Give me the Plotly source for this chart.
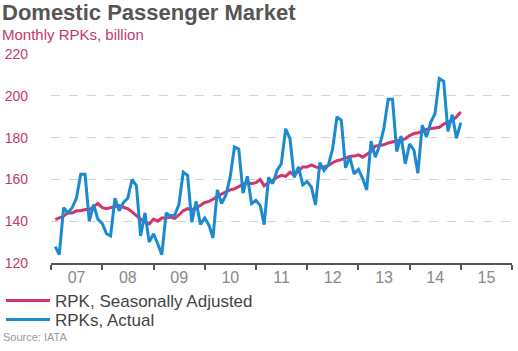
import pandas as pd
import plotly.graph_objects as go

# Monthly observations, Feb 2007 .. Jan 2015 (96 months)
months = pd.date_range("2007-02-01", periods=96, freq="MS")

rpk_sa = [
    140.8, 141.5, 142.5, 144.0, 144.0, 145.0, 145.0, 145.6, 145.5, 147.0, 148.5, 146.5,
    146.0, 146.5, 147.0, 147.5, 146.7, 146.0, 144.5, 142.5, 141.0, 139.5, 138.7, 141.0,
    140.0, 141.5, 141.5, 142.0, 141.4, 143.0, 145.0, 146.0, 145.5, 146.5, 147.5, 149.0,
    149.5, 150.5, 152.0, 153.0, 154.0, 155.0, 155.5, 156.5, 157.5, 158.7, 158.0, 158.5,
    160.0, 157.0, 158.5, 159.5, 161.0, 162.0, 161.5, 163.5, 162.0, 164.3, 166.0, 166.0,
    167.0, 166.0, 165.5, 166.0, 166.7, 168.0, 169.0, 169.5, 170.2, 171.0, 171.2, 171.8,
    170.7, 172.0, 173.5, 176.0, 176.3, 176.6, 177.5, 178.0, 178.7, 179.0, 179.5, 181.0,
    182.0, 182.4, 183.0, 184.0, 184.3, 184.6, 185.0, 186.5, 187.5, 188.3, 190.0, 192.3,
]

rpk_actual = [
    127.8, 124.0, 146.5, 144.0, 146.5, 151.0, 162.5, 162.5, 140.0, 148.0, 141.0, 139.0,
    134.0, 133.0, 151.0, 145.0, 149.0, 151.0, 160.0, 157.0, 133.0, 144.0, 130.0, 134.0,
    129.0, 124.0, 144.0, 142.5, 143.0, 148.0, 163.5, 162.0, 139.5, 149.5, 138.5, 141.5,
    138.0, 132.0, 155.0, 148.5, 152.5, 161.0, 175.5, 174.5, 153.5, 161.5, 148.5, 150.0,
    147.5, 138.4, 161.0, 158.0, 164.3, 167.5, 184.3, 179.5, 161.0, 166.0, 157.4, 159.0,
    156.3, 147.8, 168.0, 164.3, 167.0, 174.7, 190.0, 188.3, 165.6, 170.7, 162.7, 164.8,
    160.3, 155.0, 178.4, 170.7, 176.3, 184.3, 198.4, 198.4, 173.4, 180.8, 167.5, 177.0,
    174.0, 163.0, 186.0, 180.3, 187.5, 191.5, 208.3, 207.0, 183.0, 191.0, 179.8, 187.2,
]

y_label_ticks = [120, 140, 160, 180, 200, 220]
grid_ticks = [140, 160, 180, 200]

PINK = "#d3336f"
BLUE = "#1b8ad0"
FONT = "Arial, Liberation Sans, sans-serif"

W, H = 518, 351
ML, MR, MT, MB = 51, 6, 50, 88
pw, ph = W - ML - MR, H - MT - MB
def px(xp):
    return (xp - ML) / pw
def py(yp):
    return (H - MB - yp) / ph

fig = go.Figure()
fig.add_trace(go.Scatter(x=months, y=rpk_sa, mode="lines", name="RPK, Seasonally Adjusted",
                         line=dict(color=PINK, width=3), yaxis="y", legend="legend"))
fig.add_trace(go.Scatter(x=months, y=rpk_actual, mode="lines", name="RPKs, Actual",
                         line=dict(color=BLUE, width=3), yaxis="y2", legend="legend2"))

leg_common = dict(xanchor="left", yanchor="middle", font=dict(size=17, color="#444"),
                  bgcolor="rgba(0,0,0,0)", itemwidth=44, borderwidth=0)

fig.update_layout(
    width=W, height=H,
    margin=dict(l=ML, r=MR, t=MT, b=MB, autoexpand=False),
    paper_bgcolor="white", plot_bgcolor="white",
    font=dict(family=FONT),
    showlegend=True,
    legend=dict(x=px(1), y=py(301), **leg_common),
    legend2=dict(x=px(1), y=py(320), **leg_common),
    xaxis=dict(
        type="date", range=["2007-01-01", "2016-01-01"],
        tick0="2007-01-01", dtick="M12", tickformat="%y", ticklabelmode="period",
        ticks="outside", ticklen=5, tickcolor="#555", tickwidth=1.5,
        showline=True, linecolor="#555", linewidth=1.5,
        showgrid=False, zeroline=False, automargin=False,
        tickfont=dict(size=16, color="#888"), ticklabelstandoff=-6,
    ),
    yaxis=dict(
        range=[120, 222], tickvals=y_label_ticks, showgrid=False, zeroline=False,
        tickfont=dict(size=14, color="#c4386f"), ticklabelstandoff=22, automargin=False,
    ),
    yaxis2=dict(
        overlaying="y", matches="y", tickvals=grid_ticks, showgrid=True,
        gridcolor="#d4d4d4", griddash="dash", gridwidth=1,
        showticklabels=False, zeroline=False, side="left", automargin=False,
    ),
)

fig.add_annotation(text="<b>Domestic Passenger Market</b>", xref="paper", yref="paper",
                   x=px(0), y=py(13), xanchor="left", yanchor="middle", showarrow=False,
                   font=dict(size=22, color="#555"))
fig.add_annotation(text="Monthly RPKs, billion", xref="paper", yref="paper",
                   x=px(0), y=py(34), xanchor="left", yanchor="middle", showarrow=False,
                   font=dict(size=15, color="#c4386f"))
fig.add_annotation(text="Source: IATA", xref="paper", yref="paper",
                   x=px(1), y=py(337), xanchor="left", yanchor="middle", showarrow=False,
                   font=dict(size=11, color="#999"))

fig.write_html("out.html")
